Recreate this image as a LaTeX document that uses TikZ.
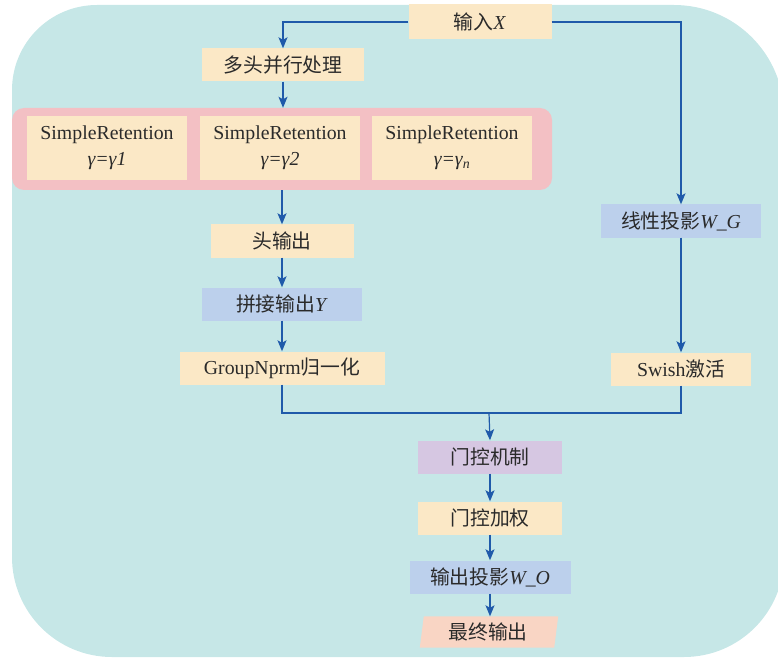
\documentclass[tikz,border=0pt]{standalone}
\usepackage{fontspec}
\setmainfont{Liberation Serif}
\newfontfamily\cjk{Noto Sans CJK SC}
\newcommand\zh[1]{{\cjk #1}}
\usetikzlibrary{arrows.meta,backgrounds}
\definecolor{bgteal}{HTML}{C6E7E7}
\definecolor{pinkc}{HTML}{F3C0C4}
\definecolor{yel}{HTML}{FBE8C6}
\definecolor{blu}{HTML}{BCD0EC}
\definecolor{pur}{HTML}{D6C7E2}
\definecolor{sal}{HTML}{F9D5C4}
\definecolor{arrc}{HTML}{1F5AAA}
\definecolor{txt}{HTML}{2A2A2A}
\tikzset{
  box/.style={inner sep=0pt, minimum height=33pt, text=txt, font=\fontsize{19.8}{23}\selectfont},
  ybox/.style={box, fill=yel},
  bbox/.style={box, fill=blu},
  pbox/.style={box, fill=pur},
  srbox/.style={box, fill=yel, minimum width=160pt, minimum height=64pt, align=center, font=\fontsize{19.8}{26}\selectfont},
  line/.style={draw=arrc, line width=1.2pt},
  arr/.style={line, -{Stealth[length=11pt,width=9pt,inset=2.5pt]}},
}
\begin{document}
\begin{tikzpicture}[x=1pt,y=-1pt]
\useasboundingbox (0,0) rectangle (778,660);
% background panel
\begin{scope}[on background layer]
\fill[bgteal] (12,330) [rounded corners=85pt] |- (400,5) [rounded corners=110pt] -| (784,330) [rounded corners=100pt] |- (400,657) [rounded corners=100pt] -| (12,330) -- cycle;
\end{scope}

% pink container
\node[fill=pinkc, rounded corners=12pt, minimum width=540pt, minimum height=82pt, inner sep=0pt] (heads) at (282,149) {};
\node[srbox] (sr1) at (107,148) {SimpleRetention\\\textit{γ=γ1}};
\node[srbox] (sr2) at (280,148) {SimpleRetention\\\textit{γ=γ2}};
\node[srbox] (sr3) at (452,148) {SimpleRetention\\\textit{γ=γ\textsubscript{n}}};

\node[ybox, minimum width=143pt, minimum height=35pt] (in) at (480,22) {\zh{输入}\textit{X}};
\node[ybox, minimum width=162pt] (mh) at (283,65) {\zh{多头并行处理}};
\node[ybox, minimum width=143pt] (ho) at (282,241) {\zh{头输出}};
\node[bbox, minimum width=160pt] (pj) at (282,304) {\zh{拼接输出}\textit{Y}};
\node[ybox, minimum width=205pt] (gn) at (282,368) {GroupNprm\zh{归一化}};
\node[bbox, minimum width=160pt] (lp) at (681,221) {\zh{线性投影}\textit{W\_G}};
\node[ybox, minimum width=140pt] (sw) at (681,369) {Swish\zh{激活}};
\node[pbox, minimum width=144pt] (gm) at (490,457) {\zh{门控机制}};
\node[ybox, minimum width=144pt] (gw) at (490,518) {\zh{门控加权}};
\node[bbox, minimum width=161pt] (op) at (490,577) {\zh{输出投影}\textit{W\_O}};
\node[box, minimum width=132pt, minimum height=31pt] (fo) at (488,632) {\zh{最终输出}};
\begin{scope}[on background layer]
\fill[sal] ([xshift=-2pt]fo.south west) -- ([xshift=2pt]fo.north west) -- ([xshift=4pt]fo.north east) -- ([xshift=0pt]fo.south east) -- cycle;
\end{scope}

\coordinate (j) at (489,413);
\draw[arr] (in.west) -| (mh.north);
\draw[arr] (in.east) -| (lp.north);
\draw[arr] (mh.south) -- (heads.north -| mh.south);
\draw[arr] (heads.south -| ho.north) -- (ho.north);
\draw[arr] (ho.south) -- (pj.north);
\draw[arr] (pj.south) -- (gn.north);
\draw[arr] (lp.south) -- (sw.north);
\draw[line] (gn.south) |- (j);
\draw[line] (sw.south) |- (j);
\draw[arr] (j) -- (gm.north);
\draw[arr] (gm.south) -- (gw.north);
\draw[arr] (gw.south) -- (op.north);
\draw[arr] (op.south) -- (fo.north -| op.south);
\end{tikzpicture}
\end{document}
